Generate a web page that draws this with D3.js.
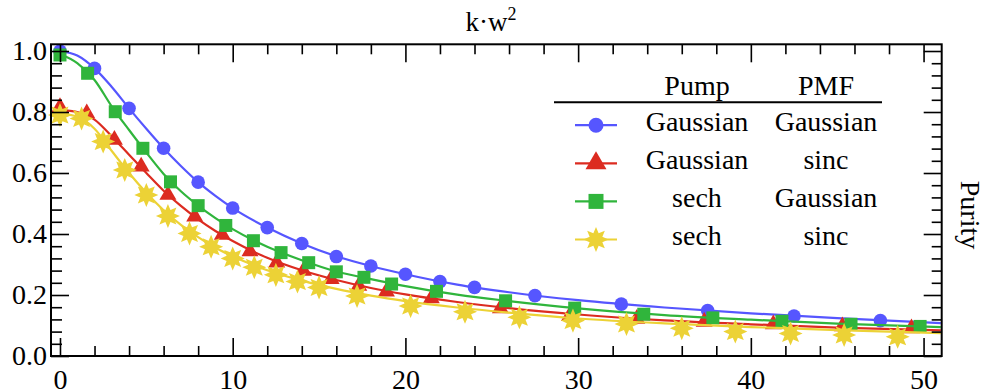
<!DOCTYPE html>
<html><head><meta charset="utf-8">
<script src="https://cdn.jsdelivr.net/npm/d3@7"></script>
<style>
body{margin:0;background:#fff}
svg{display:block}
svg text{font-family:"Liberation Serif","Times New Roman","DejaVu Serif",serif !important;fill:#000}
</style>
</head><body>
<svg id="c" width="988" height="391" font-family="Liberation Serif"></svg>
<script>
// ---------- data ----------
const pumpLabels = ["Gaussian","Gaussian","sech","sech"];
const pmfLabels  = ["Gaussian","sinc","Gaussian","sinc"];
const colors     = ["#5656ff","#dc2b20","#30b53c","#ecd236"];
const symbolsKey = ["circle","triangle","square","star"];

const xMajorTicks = [0,10,20,30,40,50];
const xMinorTicks = [2,4,6,8,12,14,16,18,22,24,26,28,32,34,36,38,42,44,46,48];
const yMajorTicks = [0,0.2,0.4,0.6,0.8,1.0];
const yMinorTicks = [0.04,0.08,0.12,0.16,0.24,0.28,0.32,0.36,0.44,0.48,0.52,0.56,0.64,0.68,0.72,0.76,0.84,0.88,0.92,0.96];

// smooth curves
const lineX      = [0,1,2,3,4,5,6,7,8,9,10,12,14,16,18,20,23,26,30,35,40,45,51];
const blueLine   = [1.0,0.985,0.943,0.882,0.812,0.745,0.681,0.623,0.570,0.525,0.485,0.421,0.369,0.327,0.295,0.268,0.234,0.209,0.183,0.159,0.140,0.124,0.108];
const redLine    = [0.807,0.800,0.775,0.720,0.660,0.600,0.542,0.492,0.448,0.410,0.377,0.322,0.281,0.249,0.223,0.202,0.177,0.157,0.136,0.117,0.104,0.093,0.084];
const greenLine  = [0.990,0.960,0.905,0.818,0.741,0.667,0.597,0.540,0.493,0.452,0.416,0.358,0.314,0.277,0.252,0.229,0.201,0.180,0.156,0.134,0.119,0.106,0.095];
const yellowLine = [0.795,0.785,0.745,0.672,0.600,0.535,0.478,0.430,0.390,0.355,0.327,0.281,0.247,0.220,0.198,0.180,0.159,0.142,0.123,0.107,0.095,0.085,0.075];

// markers
const blueX   = [0,2,4,6,8,10,12,14,16,18,20,22,24,27.5,32.5,37.5,42.5,47.5];
const blueY   = [1.0,0.943,0.812,0.681,0.570,0.485,0.421,0.369,0.326,0.295,0.268,0.244,0.225,0.198,0.170,0.149,0.131,0.116];
const redX    = [0,1.55,3.15,4.7,6.25,7.8,9.4,11.0,12.55,14.1,15.7,17.3,18.9,21.5,25.5,29.5,33.4,37.3,41.3,45.3,49.3];
const redY    = [0.816,0.796,0.709,0.621,0.528,0.457,0.397,0.343,0.306,0.279,0.252,0.230,0.211,0.189,0.156,0.131,0.122,0.112,0.104,0.097,0.091];
const greenX  = [0,1.6,3.2,4.8,6.4,8.0,9.6,11.2,12.8,14.4,16.0,17.6,19.2,21.8,25.8,29.8,33.8,37.8,41.8,45.8,49.8];
const greenY  = [0.987,0.927,0.801,0.681,0.571,0.493,0.428,0.378,0.339,0.306,0.276,0.258,0.236,0.212,0.181,0.157,0.137,0.125,0.114,0.104,0.097];
const yellowX = [0,1.25,2.5,3.75,5,6.25,7.5,8.75,10,11.25,12.5,13.75,15,17.2,20.3,23.45,26.6,29.7,32.8,36.0,39.1,42.3,45.4,48.5];
const yellowY = [0.790,0.779,0.703,0.610,0.528,0.459,0.402,0.358,0.320,0.291,0.266,0.244,0.225,0.197,0.164,0.145,0.127,0.116,0.105,0.091,0.080,0.074,0.069,0.063];

const lines   = [blueLine, redLine, greenLine, yellowLine];
const markX   = [blueX, redX, greenX, yellowX];
const markY   = [blueY, redY, greenY, yellowY];

// ---------- layout ----------
const FONT = '"Liberation Serif","Times New Roman","DejaVu Serif",serif';
const L = 51, R = 941.7, T = 44.3, B = 356;
const svg = d3.select("#c");
const x = d3.scaleLinear().domain([-0.52, 51.05]).range([L, R]);
const y = d3.scaleLinear().domain([0, 1.022]).range([B, T]);

// star symbol
const starType = {
  draw(ctx, size) {
    const ro = Math.sqrt(size) / 1.6, ri = ro * 0.55, n = 8;
    for (let i = 0; i < 2 * n; i++) {
      const r = i % 2 ? ri : ro;
      const a = -Math.PI / 2 + i * Math.PI / n;
      const px = r * Math.cos(a), py = r * Math.sin(a);
      if (i === 0) ctx.moveTo(px, py); else ctx.lineTo(px, py);
    }
    ctx.closePath();
  }
};
const symType = {circle: d3.symbolCircle, triangle: d3.symbolTriangle, square: d3.symbolSquare, star: starType};
const symSize = {circle: 145, triangle: 125, square: 169, star: 370};
const legSize = {circle: 177, triangle: 190, square: 225, star: 400};

// series
const plot = svg.append("g");
const lineGen = d3.line().x(d => x(d[0])).y(d => y(d[1])).curve(d3.curveMonotoneX);
for (let s = 0; s < 4; s++) {
  const pts = lineX.map((v, i) => [v, lines[s][i]]);
  plot.append("path").attr("d", lineGen(pts)).attr("fill", "none")
    .attr("stroke", colors[s]).attr("stroke-width", 2.2);
  const mk = markX[s].map((v, i) => [v, markY[s][i]]);
  plot.selectAll(null).data(mk).enter().append("path")
    .attr("transform", d => `translate(${x(d[0])},${y(d[1])})`)
    .attr("d", d3.symbol().type(symType[symbolsKey[s]]).size(symSize[symbolsKey[s]])())
    .attr("fill", colors[s]);
}

// axes
function styleAxis(g) {
  g.attr("font-family", FONT);
  g.select(".domain").remove();
  g.selectAll(".tick line").attr("stroke", "#000").attr("stroke-width", 1.6);
  g.selectAll("text").attr("font-family", FONT).style("font-family", FONT).style("font-size", "28px");
}
const fmtY = d3.format(".1f");
svg.append("g").attr("transform", `translate(0,${B})`)
  .call(d3.axisBottom(x).tickValues(xMajorTicks).tickSize(-18).tickPadding(13).tickFormat(d3.format("d")))
  .call(styleAxis);
svg.append("g").attr("transform", `translate(0,${B})`)
  .call(d3.axisBottom(x).tickValues(xMinorTicks).tickSize(-10).tickFormat(""))
  .call(styleAxis);
svg.append("g").attr("transform", `translate(0,${T})`)
  .call(d3.axisTop(x).tickValues(xMajorTicks).tickSize(-18).tickFormat(""))
  .call(styleAxis);
svg.append("g").attr("transform", `translate(0,${T})`)
  .call(d3.axisTop(x).tickValues(xMinorTicks).tickSize(-10).tickFormat(""))
  .call(styleAxis);
svg.append("g").attr("transform", `translate(${L},0)`)
  .call(d3.axisLeft(y).tickValues(yMajorTicks).tickSize(-18).tickPadding(4).tickFormat(fmtY))
  .call(styleAxis);
svg.append("g").attr("transform", `translate(${L},0)`)
  .call(d3.axisLeft(y).tickValues(yMinorTicks).tickSize(-11).tickFormat(""))
  .call(styleAxis);
svg.append("g").attr("transform", `translate(${R},0)`)
  .call(d3.axisRight(y).tickValues(yMajorTicks).tickSize(-18).tickFormat(""))
  .call(styleAxis);
svg.append("g").attr("transform", `translate(${R},0)`)
  .call(d3.axisRight(y).tickValues(yMinorTicks).tickSize(-10).tickFormat(""))
  .call(styleAxis);

// frame
svg.append("rect").attr("x", L).attr("y", T).attr("width", R - L).attr("height", B - T)
  .attr("fill", "none").attr("stroke", "#000").attr("stroke-width", 2);

function txt(sel) { return sel.attr("font-family", FONT).style("font-family", FONT); }

// title
const title = txt(svg.append("text")).attr("x", 491).attr("y", 30.7).attr("text-anchor", "middle")
  .style("font-size", "27px");
title.append("tspan").text("k·w");
title.append("tspan").attr("dy", -11).style("font-size", "18px").text("2");

// right label
txt(svg.append("text")).attr("transform", "translate(961,215) rotate(90)")
  .attr("text-anchor", "middle").style("font-size", "28px").text("Purity");

// legend
const lg = svg.append("g");
txt(lg.append("text")).attr("x", 697).attr("y", 95).attr("text-anchor", "middle").style("font-size", "28px").text("Pump");
txt(lg.append("text")).attr("x", 826).attr("y", 95).attr("text-anchor", "middle").style("font-size", "28px").text("PMF");
lg.append("line").attr("x1", 554).attr("x2", 882).attr("y1", 102.3).attr("y2", 102.3)
  .attr("stroke", "#000").attr("stroke-width", 2);
for (let s = 0; s < 4; s++) {
  const by = 130.7 + s * 38.1, my = by - 5.5;
  lg.append("line").attr("x1", 575).attr("x2", 617).attr("y1", my).attr("y2", my)
    .attr("stroke", colors[s]).attr("stroke-width", 2.2);
  lg.append("path").attr("transform", `translate(596,${my})`)
    .attr("d", d3.symbol().type(symType[symbolsKey[s]]).size(legSize[symbolsKey[s]])())
    .attr("fill", colors[s]);
  txt(lg.append("text")).attr("x", 697).attr("y", by).attr("text-anchor", "middle").style("font-size", "28px").text(pumpLabels[s]);
  txt(lg.append("text")).attr("x", 826).attr("y", by).attr("text-anchor", "middle").style("font-size", "28px").text(pmfLabels[s]);
}
</script>
</body></html>
